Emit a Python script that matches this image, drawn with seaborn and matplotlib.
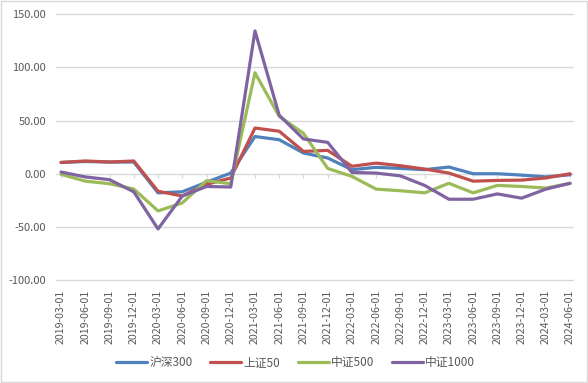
import pandas as pd
import matplotlib.pyplot as plt
import seaborn as sns

# 季度日期
dates = ["2019-03-01", "2019-06-01", "2019-09-01", "2019-12-01",
         "2020-03-01", "2020-06-01", "2020-09-01", "2020-12-01",
         "2021-03-01", "2021-06-01", "2021-09-01", "2021-12-01",
         "2022-03-01", "2022-06-01", "2022-09-01", "2022-12-01",
         "2023-03-01", "2023-06-01", "2023-09-01", "2023-12-01",
         "2024-03-01", "2024-06-01"]

hs300 = [10.6, 11.5, 11.0, 11.0, -18.0, -17.0, -8.0, 0.6, 35.0, 32.0, 19.5,
         14.8, 3.8, 6.0, 5.0, 3.8, 6.3, 0.0, 0.0, -1.3, -3.0, -1.0]
sz50 = [10.6, 12.0, 11.0, 12.0, -16.5, -21.0, -10.0, -4.0, 43.0, 40.0, 21.0,
        22.0, 7.0, 10.0, 7.5, 4.4, 0.6, -7.0, -6.3, -6.0, -4.0, 0.0]
zz500 = [-0.6, -7.0, -9.4, -14.4, -35.0, -27.5, -6.6, -9.4, 95.0, 54.0, 38.0,
         5.0, -2.5, -14.5, -16.0, -18.0, -9.0, -18.0, -11.0, -12.0, -13.5, -9.0]
zz1000 = [1.6, -3.0, -5.6, -17.0, -52.0, -21.0, -12.0, -12.5, 134.4, 55.0, 32.7,
          29.5, 1.2, 0.6, -2.0, -11.0, -24.0, -24.0, -19.0, -23.0, -14.5, -9.0]

series_names = ["沪深300", "上证50", "中证500", "中证1000"]
series_vals = [hs300, sz50, zz500, zz1000]
palette = ["#4F81BD", "#C0504D", "#9BBB59", "#8064A2"]
yticks = [-100, -50, 0, 50, 100, 150]

rows = []
for name, vals in zip(series_names, series_vals):
    for i, v in enumerate(vals):
        rows.append({"idx": i, "value": v, "index": name})
df = pd.DataFrame(rows)

sns.set_style("white")
plt.rcParams["font.family"] = ["Noto Sans CJK SC", "DejaVu Sans"]
plt.rcParams["axes.unicode_minus"] = False

fig = plt.figure(figsize=(5.88, 3.83), dpi=100, facecolor="white")
ax = fig.add_axes([0.0952, 0.2662, 0.8793, 0.6972])
ax.set_facecolor("white")

# 网格线
for v in yticks:
    ax.axhline(v, color="#d9d9d9", linewidth=1.0, zorder=0, clip_on=False)

sns.lineplot(data=df, x="idx", y="value", hue="index", palette=palette,
             linewidth=2.3, ax=ax, legend=False, sort=False)

ax.set_ylim(-101, 150.3)
ax.set_yticks(yticks)
ax.set_yticklabels([f"{v:.2f}" for v in yticks])
ax.set_xlim(-0.21, 21.12)
ax.set_xticks(range(len(dates)))
ax.set_xticklabels(dates, rotation=90)
ax.tick_params(axis="y", length=0, labelsize=8, colors="#595959", pad=7)
ax.tick_params(axis="x", length=0, labelsize=7.6, colors="#595959", pad=6)
ax.set_xlabel("")
ax.set_ylabel("")
ax.grid(False)
for s in ax.spines.values():
    s.set_visible(False)

# 0 轴上的小刻度
sec = ax.secondary_xaxis(101 / 251.3)
sec.set_xticks(range(len(dates)))
sec.set_xticklabels([])
sec.tick_params(length=3, color="#d9d9d9", width=0.9)
for s in sec.spines.values():
    s.set_visible(False)

handles = [plt.Line2D([], [], color=c, linewidth=2.3) for c in palette]
fig.legend(handles, series_names, loc="center", bbox_to_anchor=(0.503, 0.053),
           ncol=4, frameon=False, fontsize=8.5, handlelength=2.6,
           handletextpad=0.2, columnspacing=1.5, labelcolor="#595959")

fig.patches.append(plt.Rectangle((0.002, 0.003), 0.996, 0.994, transform=fig.transFigure,
                                 fill=False, edgecolor="#d9d9d9", linewidth=1))

fig.savefig("out.png", dpi=100, facecolor="white")
